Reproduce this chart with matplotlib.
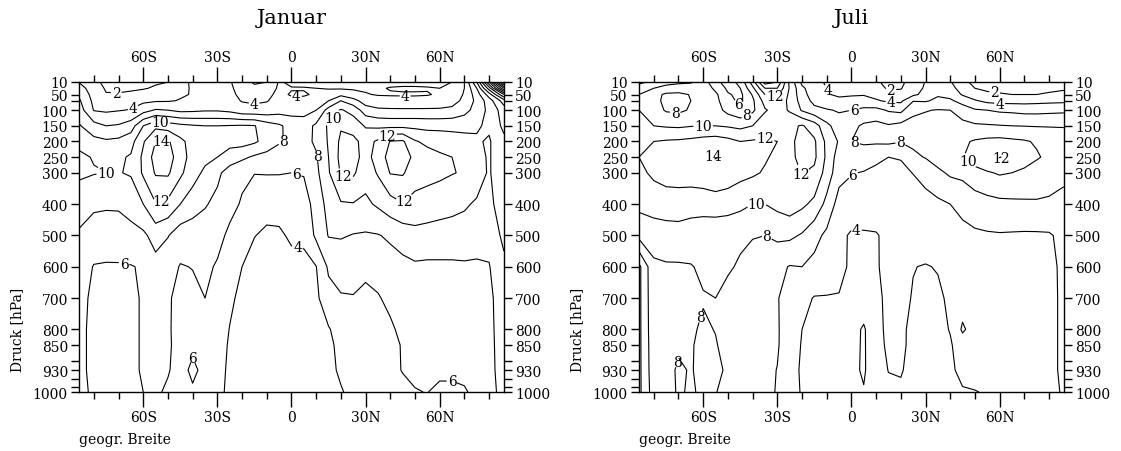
import numpy as np
import matplotlib.pyplot as plt

plt.rcParams['font.family'] = 'DejaVu Serif'

# Gitterpunkte (geogr. Breite, Druckflaechen)
lat = [-86, -80, -75, -70, -65, -60, -55, -50, -45, -40, -35, -30, -25, -20, -15, -10, -5, 0,
       5, 10, 15, 20, 25, 30, 35, 40, 45, 50, 55, 60, 65, 70, 75, 80, 86]
plev = [10, 30, 50, 70, 100, 150, 200, 250, 300, 400, 500, 600, 700, 800, 850, 930, 1000]

# Zonalmittel Januar, eine Zeile je Druckflaeche
januar = [
    [3.9, 2.4, 1.6, 1.3, 1.3, 1.4, 1.7, 2.0, 3.2, 4.4, 4.6, 4.6, 4.2, 2.8, 1.7, 2.0, 4.2, 3.6, 3.5, 3.4, 3.4, 3.4, 3.4, 3.4, 3.4, 3.5, 3.5, 3.5, 3.6, 3.7, 4.0, 6.0, 12, 22, 36],
    [4.9, 2.9, 1.8, 1.5, 1.5, 1.8, 2.3, 2.8, 3.5, 4.2, 4.6, 4.6, 4.3, 3.3, 2.5, 2.9, 4.3, 4.1, 4.1, 4.0, 3.9, 3.8, 3.8, 3.8, 3.8, 4.1, 4.2, 4.2, 4.1, 4.0, 4.3, 6.0, 10, 17, 28],
    [5.7, 3.2, 2.1, 2.2, 2.6, 3.0, 3.2, 3.3, 3.8, 4.1, 4.7, 4.8, 4.4, 3.6, 3.3, 3.6, 4.4, 3.85, 3.85, 4.2, 4.6, 5.5, 4.6, 4.1, 3.9, 3.85, 3.85, 3.85, 3.9, 4.2, 4.7, 6.2, 9, 13, 20],
    [6.3, 3.5, 2.8, 3.0, 3.4, 3.6, 3.8, 3.85, 4.1, 4.6, 5.0, 5.0, 4.6, 3.9, 3.7, 3.9, 4.6, 4.4, 4.4, 4.6, 6.0, 8.0, 6.8, 5.0, 4.6, 4.6, 4.5, 4.5, 4.6, 4.8, 5.2, 6.5, 8.5, 11, 15],
    [7.0, 3.9, 3.7, 3.9, 4.1, 5.2, 6.2, 6.0, 5.5, 5.6, 5.8, 5.8, 5.5, 4.7, 4.6, 4.7, 5.2, 5.2, 5.3, 6.0, 8.8, 10.2, 9.3, 7.0, 6.4, 6.3, 6.3, 6.3, 6.3, 6.3, 6.5, 7.3, 8.8, 10.5, 13],
    [8.2, 6.7, 6.0, 6.2, 7.0, 10.0, 11.5, 11.0, 10.5, 10.2, 10.0, 10.0, 10.1, 10.2, 10.1, 9.0, 8.3, 7.3, 7.0, 8.4, 10.3, 11.8, 11.2, 9.8, 9.6, 9.5, 9.5, 9.5, 9.4, 9.4, 9.4, 9.5, 9.8, 10.3, 12.5],
    [9.6, 8.6, 8.3, 8.5, 9.3, 11.8, 14.0, 14.3, 12.5, 11.2, 10.7, 10.5, 10.6, 10.8, 10.3, 9.3, 8.2, 7.6, 7.4, 8.3, 10.2, 12.4, 12.5, 11.3, 12.3, 14.1, 14.3, 12.2, 11.5, 11.3, 11.0, 10.6, 10.2, 9.8, 11.5],
    [10.3, 9.9, 9.6, 9.7, 10.2, 12.4, 14.8, 15.0, 12.8, 11.3, 10.5, 10.0, 9.2, 8.4, 7.7, 7.3, 7.0, 6.8, 6.9, 7.8, 10.0, 12.6, 12.7, 11.3, 12.8, 14.8, 15.0, 13.5, 12.9, 12.3, 12.0, 11.3, 10.6, 9.8, 11.5],
    [10.4, 10.1, 10.0, 9.9, 10.2, 12.3, 14.2, 14.3, 12.4, 10.8, 9.6, 8.5, 7.0, 6.4, 6.05, 6.1, 6.1, 6.0, 6.1, 7.5, 9.8, 12.2, 12.3, 10.8, 12.2, 14.1, 14.2, 13.0, 12.8, 12.5, 12.1, 11.8, 10.8, 9.8, 11.5],
    [8.7, 8.3, 8.2, 8.2, 8.6, 10.0, 11.9, 11.5, 10.0, 9.0, 8.2, 7.4, 6.6, 5.8, 5.0, 4.6, 4.5, 4.9, 5.3, 6.6, 8.8, 9.8, 9.9, 9.6, 10.3, 11.2, 11.9, 11.3, 10.9, 10.6, 10.4, 10.2, 9.8, 9.4, 11.3],
    [7.8, 7.2, 7.2, 7.3, 7.5, 7.6, 8.8, 8.1, 6.9, 6.8, 6.8, 6.6, 5.6, 5.2, 4.05, 3.7, 3.8, 4.2, 4.3, 6.4, 8.1, 8.2, 7.9, 7.8, 7.9, 8.3, 8.8, 9.4, 9.4, 9.4, 9.4, 9.3, 8.9, 8.6, 10.5],
    [7.0, 5.9, 5.8, 5.8, 5.9, 6.2, 7.3, 6.7, 5.9, 6.05, 6.4, 5.8, 4.9, 4.0, 3.4, 3.2, 3.4, 3.6, 3.6, 3.95, 6.3, 6.5, 6.4, 6.3, 6.5, 7.2, 7.5, 7.7, 7.6, 7.6, 7.6, 7.7, 7.7, 7.9, 9.5],
    [6.6, 5.6, 5.5, 5.5, 5.6, 6.2, 6.8, 6.2, 5.5, 5.6, 6.0, 5.0, 4.3, 3.6, 3.1, 3.0, 3.0, 3.2, 3.3, 3.6, 5.3, 5.9, 5.95, 5.7, 5.9, 6.3, 6.8, 7.0, 7.0, 7.0, 7.0, 7.0, 7.2, 7.6, 9.0],
    [6.5, 5.5, 5.5, 5.5, 5.6, 6.2, 6.6, 6.2, 5.4, 5.5, 5.4, 4.9, 3.95, 3.4, 3.0, 2.9, 2.9, 3.0, 3.1, 3.4, 3.85, 4.8, 5.3, 5.4, 5.5, 5.8, 6.3, 6.8, 6.8, 6.8, 6.8, 6.8, 7.0, 7.6, 8.8],
    [6.5, 5.5, 5.5, 5.5, 5.6, 6.2, 6.5, 6.2, 5.5, 5.7, 5.4, 4.8, 3.8, 3.3, 3.0, 2.9, 2.9, 3.0, 3.0, 3.3, 3.6, 4.5, 5.1, 5.3, 5.4, 5.6, 6.1, 6.6, 6.7, 6.7, 6.7, 6.7, 6.9, 7.6, 8.7],
    [6.5, 5.5, 5.5, 5.5, 5.6, 6.2, 6.4, 6.1, 5.5, 6.3, 5.6, 4.6, 3.7, 3.3, 3.0, 2.9, 2.9, 3.0, 3.0, 3.2, 3.5, 4.3, 4.8, 5.1, 5.2, 5.7, 6.05, 6.4, 6.5, 6.5, 6.5, 6.5, 6.8, 7.6, 8.6],
    [6.5, 5.7, 5.5, 5.5, 5.7, 6.0, 6.2, 5.8, 5.4, 5.8, 5.4, 4.5, 3.6, 3.2, 3.0, 2.9, 2.9, 2.9, 3.0, 3.1, 3.4, 3.85, 4.5, 4.8, 5.0, 5.3, 5.7, 5.9, 6.05, 5.5, 5.5, 5.8, 6.5, 7.5, 8.5],
]

# Zonalmittel Juli
juli = [
    [12.5, 11.5, 10.8, 10.4, 10.2, 9.0, 6.5, 5.2, 6.5, 11, 17, 16, 9.5, 5.5, 4.5, 3.8, 3.6, 3.5, 3.0, 2.2, 1.6, 1.7, 2.6, 4.1, 4.6, 4.2, 2.2, 1.8, 1.6, 1.5, 1.4, 1.4, 1.5, 1.6, 1.7],
    [11, 10, 9.2, 9.0, 9.1, 9.4, 7.5, 5.6, 6.0, 9.5, 14, 14, 9.8, 6.4, 4.8, 4.0, 3.7, 3.6, 3.2, 2.6, 1.8, 1.9, 3.0, 4.3, 5.0, 4.8, 3.0, 2.0, 1.8, 1.7, 1.6, 1.6, 1.7, 1.8, 1.9],
    [10, 8.6, 7.7, 7.6, 8.1, 9.4, 8.4, 6.2, 5.5, 8.2, 12, 12.3, 9.6, 6.8, 4.9, 4.1, 3.8, 3.85, 3.9, 3.4, 2.6, 2.5, 3.6, 4.6, 5.8, 5.4, 3.8, 2.9, 2.2, 2.1, 2.0, 2.0, 2.0, 2.1, 2.2],
    [10, 8.5, 7.6, 7.5, 8.0, 9.3, 8.6, 6.6, 5.6, 7.6, 10.8, 11.4, 9.5, 7.2, 5.4, 4.6, 4.3, 4.5, 4.6, 4.2, 3.7, 3.6, 5.9, 5.8, 6.4, 6.3, 5.3, 4.2, 3.5, 3.3, 3.3, 3.3, 3.4, 3.5, 3.6],
    [10, 8.9, 7.8, 7.6, 8.2, 9.3, 8.8, 7.4, 6.5, 7.6, 9.8, 10.8, 9.8, 7.8, 6.6, 6.2, 5.8, 6.0, 6.5, 6.6, 5.8, 5.5, 7.6, 7.9, 8.1, 8.0, 7.0, 6.2, 6.0, 5.7, 5.6, 5.4, 5.4, 5.5, 5.6],
    [10.5, 10, 9.8, 9.7, 9.9, 10.0, 10.0, 9.8, 9.5, 10.0, 11.2, 11.8, 11.5, 12.2, 11.0, 8.5, 7.0, 7.5, 8.3, 8.6, 8.2, 8.6, 8.6, 8.7, 8.8, 8.8, 8.6, 8.3, 8.2, 8.1, 8.0, 7.95, 7.9, 7.9, 7.9],
    [11.5, 12, 12.2, 12.3, 12.5, 12.8, 13.0, 12.6, 12.0, 12.2, 12.2, 12.0, 11.6, 12.6, 12.3, 9.5, 7.8, 8.0, 8.3, 8.3, 8.4, 8.1, 8.4, 8.9, 9.2, 9.5, 9.7, 10.2, 10.5, 10.6, 10.4, 10.2, 9.8, 9.2, 8.8],
    [12, 12.6, 13, 13.3, 13.6, 13.8, 14.1, 13.6, 13.0, 12.8, 12.2, 11.6, 11.5, 12.6, 12.4, 9.6, 7.0, 6.7, 6.9, 6.4, 6.0, 6.1, 7.6, 8.1, 8.8, 9.4, 9.9, 11.0, 11.7, 12.1, 11.6, 10.9, 10.2, 9.6, 9.2],
    [11.5, 12.4, 12.8, 12.9, 13.0, 13.2, 13.5, 13.2, 12.6, 12.3, 11.8, 11.1, 11.2, 12.1, 11.6, 9.2, 6.7, 6.1, 5.9, 5.6, 5.5, 5.6, 6.05, 6.6, 7.6, 8.3, 8.5, 9.3, 9.8, 10.2, 10.0, 9.6, 9.1, 8.6, 8.4],
    [10.5, 10.8, 11, 11, 10.8, 10.8, 11.0, 10.8, 10.5, 10.0, 10.0, 10.5, 11.0, 10.4, 9.5, 7.4, 5.2, 5.0, 5.0, 5.2, 5.3, 5.0, 5.0, 5.4, 5.6, 6.0, 6.5, 7.0, 7.3, 7.5, 7.6, 7.7, 7.8, 7.8, 7.5],
    [8.6, 9.0, 9.1, 9.2, 9.0, 8.8, 8.6, 8.6, 8.3, 8.1, 8.0, 8.4, 8.4, 7.8, 6.6, 5.6, 4.4, 3.8, 3.8, 3.85, 4.5, 4.7, 4.8, 5.0, 5.3, 5.5, 5.5, 5.7, 5.8, 5.85, 5.8, 5.75, 5.75, 5.8, 6.5],
    [3.5, 7.6, 7.8, 7.8, 7.9, 8.3, 8.4, 8.2, 7.8, 7.3, 7.0, 6.5, 5.9, 6.0, 5.5, 5.0, 4.5, 3.7, 3.6, 3.8, 4.6, 4.5, 4.05, 3.9, 4.1, 4.8, 5.1, 5.2, 5.2, 5.2, 5.1, 5.0, 5.0, 5.4, 6.5],
    [3.5, 7.5, 7.6, 7.7, 7.85, 7.9, 8.0, 7.5, 7.2, 6.8, 6.5, 6.1, 5.3, 4.5, 3.9, 3.9, 3.9, 3.4, 3.0, 3.4, 4.6, 4.4, 3.9, 3.3, 3.7, 4.3, 5.0, 5.2, 5.1, 5.1, 5.0, 4.9, 4.8, 5.3, 6.5],
    [3.5, 7.4, 7.6, 7.7, 7.8, 8.2, 7.95, 7.3, 6.9, 6.7, 6.5, 6.2, 4.9, 4.0, 3.6, 3.5, 3.3, 2.6, 1.8, 3.3, 4.5, 4.4, 3.5, 3.2, 3.4, 4.1, 6.3, 5.1, 5.0, 5.0, 5.0, 4.9, 4.8, 5.3, 6.5],
    [3.5, 7.3, 7.5, 7.8, 7.9, 8.3, 8.1, 7.5, 7.0, 6.8, 6.5, 6.2, 4.8, 3.9, 3.5, 3.4, 3.2, 2.5, 1.8, 3.2, 4.4, 4.3, 3.6, 3.0, 3.2, 3.8, 5.0, 5.0, 5.0, 5.0, 5.0, 4.9, 4.8, 5.3, 6.5],
    [3.5, 7.2, 7.5, 8.2, 7.9, 8.4, 8.3, 7.8, 7.1, 6.8, 6.5, 5.95, 4.6, 3.8, 3.4, 3.2, 3.0, 2.4, 1.8, 3.1, 4.05, 4.1, 3.6, 3.0, 3.2, 3.8, 4.3, 4.5, 4.8, 4.9, 4.9, 4.9, 4.8, 5.3, 6.5],
    [3.5, 7.0, 7.3, 8.2, 7.8, 8.3, 8.05, 7.6, 7.0, 6.7, 6.4, 5.9, 4.5, 3.9, 3.4, 3.2, 3.0, 2.6, 2.1, 3.0, 3.6, 3.8, 3.5, 3.0, 3.2, 3.7, 3.9, 3.95, 4.1, 4.6, 4.7, 4.7, 4.6, 5.2, 6.3],
]

# Beschriftung der Isolinien (geogr. Breite, Druck)
labels_jan = [(-71, 58), (-64, 95), (-15, 74), (2, 68), (46, 66), (-53, 133), (-53, 190),
              (-74, 288), (-53, 384), (-3, 202), (8, 249), (2, 304), (17, 126), (21, 313),
              (39, 185), (46, 393), (2, 553), (-68, 600), (-38, 885), (65, 965)]
labels_jul = [(-71.5, 122), (-60, 154), (-46, 84), (-42.5, 116), (-31, 55), (-35, 186),
              (-56, 245), (-20, 302), (-38.4, 411), (-34, 500), (-13, 53), (1.2, 101),
              (1.2, 208), (1.3, 318), (16, 35), (16, 79), (20, 202), (58, 42), (60, 86),
              (48.5, 249), (60.6, 254), (2, 462), (-60.7, 762), (-72, 901)]

lat_ticks = [-60, -30, 0, 30, 60]
lat_names = ['60S', '30S', '0', '30N', '60N']
lat_minor = [-80, -70, -50, -40, -20, -10, 10, 20, 40, 50, 70, 80]
p_ticks = [10, 50, 100, 150, 200, 250, 300, 400, 500, 600, 700, 800, 850, 930, 1000]
p_minor = [70, 900, 960, 985]

levels = np.arange(2, 40, 2)

fig = plt.figure(figsize=(11.21, 4.52), dpi=100)
panels = [('Januar', januar, labels_jan, 0.0705), ('Juli', juli, labels_jul, 0.570)]

for title, field, lab_pos, x0 in panels:
    ax = fig.add_axes([x0, 0.1305, 0.379, 0.6859])
    cs = ax.contour(lat, plev, np.array(field), levels=levels, colors='black',
                    linewidths=0.8)
    texts = ax.clabel(cs, manual=lab_pos, fmt='%d', fontsize=10, inline=True,
                      inline_spacing=1)
    for t in texts:
        t.set_rotation(0)

    ax.set_xlim(-86, 86)
    ax.set_ylim(1000, 10)
    ax.set_xticks(lat_ticks)
    ax.set_xticklabels(lat_names)
    ax.set_xticks(lat_minor, minor=True)
    ax.set_yticks(p_ticks)
    ax.set_yticklabels([str(p) for p in p_ticks])
    ax.set_yticks(p_minor, minor=True)
    ax.tick_params(axis='x', which='major', direction='out', length=11, width=1,
                   top=True, labeltop=True, labelsize=10, pad=2)
    ax.tick_params(axis='x', which='minor', direction='out', length=5, width=1, top=True)
    ax.tick_params(axis='y', which='both', direction='out', length=6, width=1,
                   right=True, labelright=True, labelsize=10, pad=2)
    for s in ax.spines.values():
        s.set_linewidth(1)

    xc = x0 + 0.379 / 2
    fig.text(xc, 0.958, title, ha='center', va='center', fontsize=15)
    fig.text(x0 - 0.055, 0.27, 'Druck [hPa]', rotation=90, ha='center', va='center',
             fontsize=10)
    fig.text(x0, 0.027, 'geogr. Breite', ha='left', va='center', fontsize=10)

fig.savefig('out.png', dpi=100)
